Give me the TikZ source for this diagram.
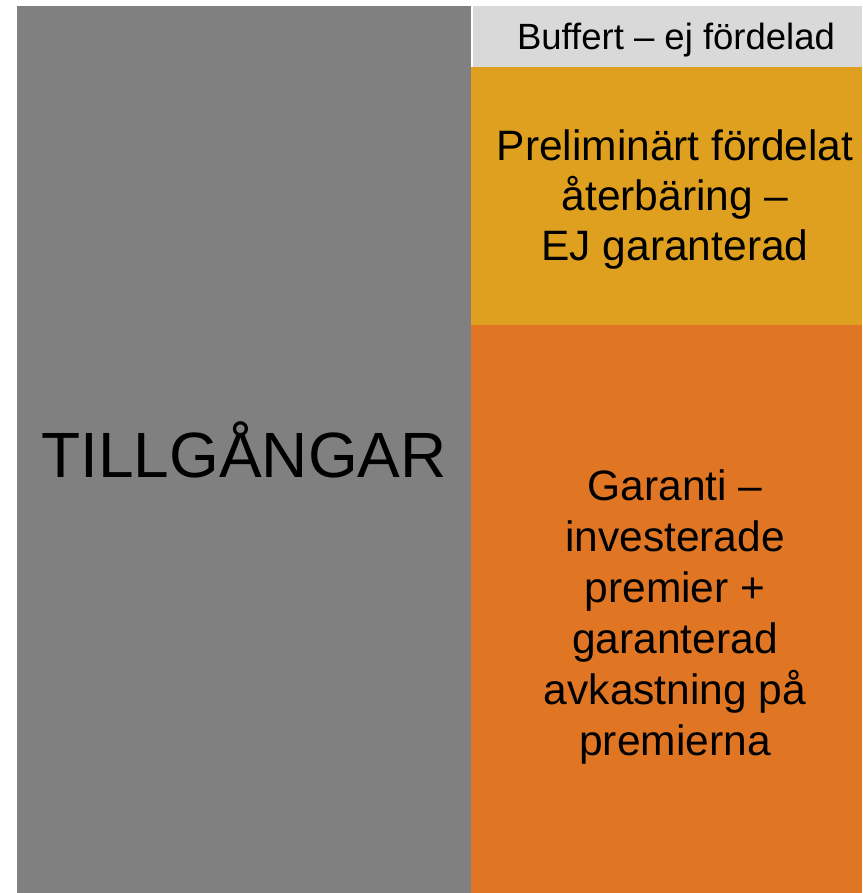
\documentclass[tikz,border=0pt]{standalone}
\usepackage{fontspec}
\setmainfont{Liberation Sans}
\usetikzlibrary{positioning}
\definecolor{assetgray}{HTML}{808080}
\definecolor{buffergray}{HTML}{D9D9D9}
\definecolor{prelimgold}{HTML}{DEA01E}
\definecolor{guaranteeorange}{HTML}{E07624}

\begin{document}
\begin{tikzpicture}[x=1pt, y=-1pt,
        block/.style={draw=none, inner sep=0pt, outer sep=0pt, anchor=north west},
        blocktext/.style={align=center, inner sep=0pt, font=\fontsize{42.5}{50}\selectfont},
      ]
        \useasboundingbox (0,0) rectangle (862,893);

        % Tillgångar
        \node[block, fill=assetgray, minimum width=454pt, minimum height=887pt] (assets) at (17,6) {};
        \node[inner sep=0pt, font=\fontsize{64}{72}\selectfont] (assetsText) at (assets.center) {TILLGÅNGAR};

        % Buffert
        \node[block, fill=buffergray, minimum width=389pt, minimum height=61pt] (buffer) at (473,6) {};
        \node[inner sep=0pt, font=\fontsize{36.5}{40}\selectfont] (bufferText) at (676,40) {Buffert – ej fördelad};

        % Preliminärt fördelat
        \node[block, fill=prelimgold, minimum width=391pt, minimum height=258pt] (prelim) at (471,67) {};
        \node[blocktext] (prelimText) at (675,200) {Preliminärt fördelat\\återbäring –\\EJ garanterad};

        % Garanti
        \node[block, fill=guaranteeorange, minimum width=391pt, minimum height=568pt] (guarantee) at (471,325) {};
        \node[blocktext, font=\fontsize{42.5}{51}\selectfont] (guaranteeText) at (675,617) {Garanti –\\investerade\\premier +\\garanterad\\avkastning på\\premierna};
      \end{tikzpicture}
\end{document}
